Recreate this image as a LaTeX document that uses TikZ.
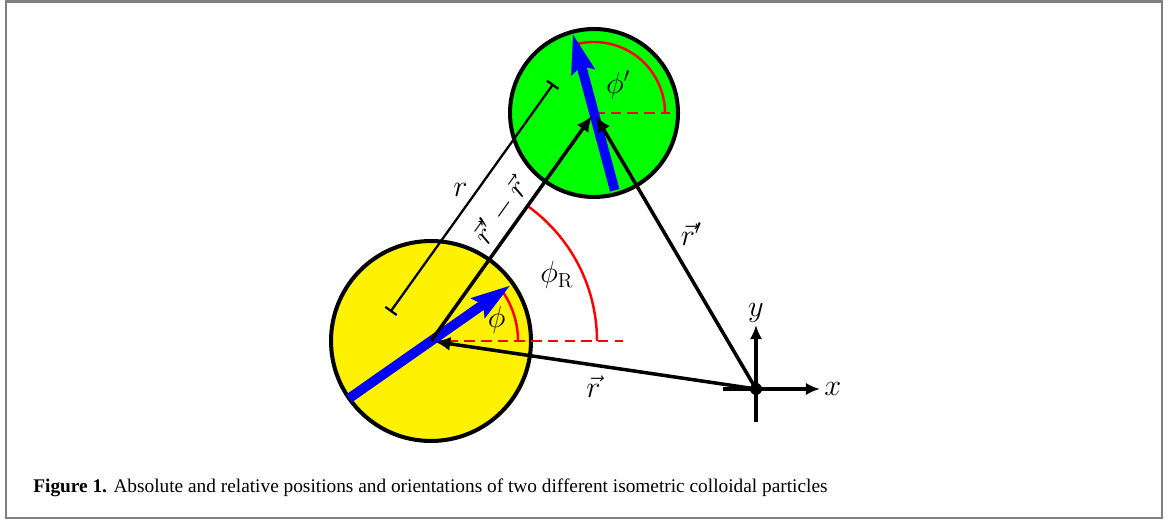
\documentclass[tikz,border=0pt]{standalone}
\usepackage{fontspec}
\newfontfamily\capfont{Liberation Serif}
\usepackage{tikz}
\usetikzlibrary{arrows.meta,calc}

\begin{document}
\begin{tikzpicture}[x=0.02cm,y=0.02cm,font=\fontsize{16.5}{20}\selectfont,
  pt/.style={draw,circle,line width=2.3pt,inner sep=0pt},
  ve/.style={-{Latex[length=9pt,width=8pt]},line width=2pt,shorten >=2pt},
  ori/.style={-{Stealth[length=22pt,width=13pt,inset=3pt]},line width=5.5pt,blue},
  an/.style={red,line width=1.4pt},
  rf/.style={red,line width=1.4pt,dash pattern=on 6pt off 3.5pt},
  ax/.style={-{Latex[length=8pt,width=7pt]},line width=2.2pt}]
\useasboundingbox (0,0) rectangle (1168,520);
\draw[gray,line width=1.2pt] (6,2) rectangle (1162,518.5);
% the two particles and the origin
\node[pt,fill=yellow,minimum size=4cm] (A) at (431,179) {};
\node[pt,fill=green,minimum size=3.36cm] (B) at (594,407) {};
\coordinate (O) at (756,131);
% reference directions and angles
\draw[rf] (A.center) -- ++(192,0);
\draw[rf] (B.center) -- ++(76,0);
\draw[an] ($(A.center)+(87,0)$) arc[start angle=0,end angle=35,radius=87];
\draw[an] ($(B.center)+(71,0)$) arc[start angle=0,end angle=105,radius=71];
\draw[an] ($(A.center)+(166,0)$) arc[start angle=0,end angle=54.4,radius=166];
\node at ($(A.center)+(17.7:69)$) {$\phi$};
\node at ($(B.center)+(49:37)$) {$\phi'$};
\node at ($(A.center)+(27.6:142)$) {$\phi_{\mathrm{R}}$};
% distance
\draw[{Bar[width=8pt]}-{Bar[width=8pt]},line width=1.3pt]
  ($(A.center)+(144.4:50)$) -- ($(B.center)+(144.4:50)$)
  node[midway,shift={(144.4:14)}] {$r$};
% orientations
\draw[ori] ($(A.center)+(215:100)$) -- ($(A.center)+(35:97)$);
\draw[ori] ($(B.center)+(285:80)$) -- ($(B.center)+(105:82)$);
% position vectors
\draw[ve] (A.center) -- (B.center)
  node[pos=0.52,sloped,yshift=11pt] {$\vec{r}'-\vec{r}$};
\draw[ve] (O) -- (B.center) node[midway,above right=-1pt] {$\vec{r}'$};
\draw[ve] (O) -- (A.center) node[midway,below=2pt] {$\vec{r}$};
% axes
\draw[ax] ($(O)+(-33,0)$) -- ($(O)+(64,0)$) node[right=-2pt] {$x$};
\draw[ax] ($(O)+(0,-33)$) -- ($(O)+(0,64)$) node[above=-3pt] {$y$};
\fill (O) circle[radius=6];
\node[anchor=base west,inner sep=0pt,font=\capfont\fontsize{11}{13}\selectfont]
  (cap) at (33,28) {\textbf{Figure 1.} Absolute and relative positions and orientations of two different isometric colloidal particles};
\end{tikzpicture}
\end{document}
